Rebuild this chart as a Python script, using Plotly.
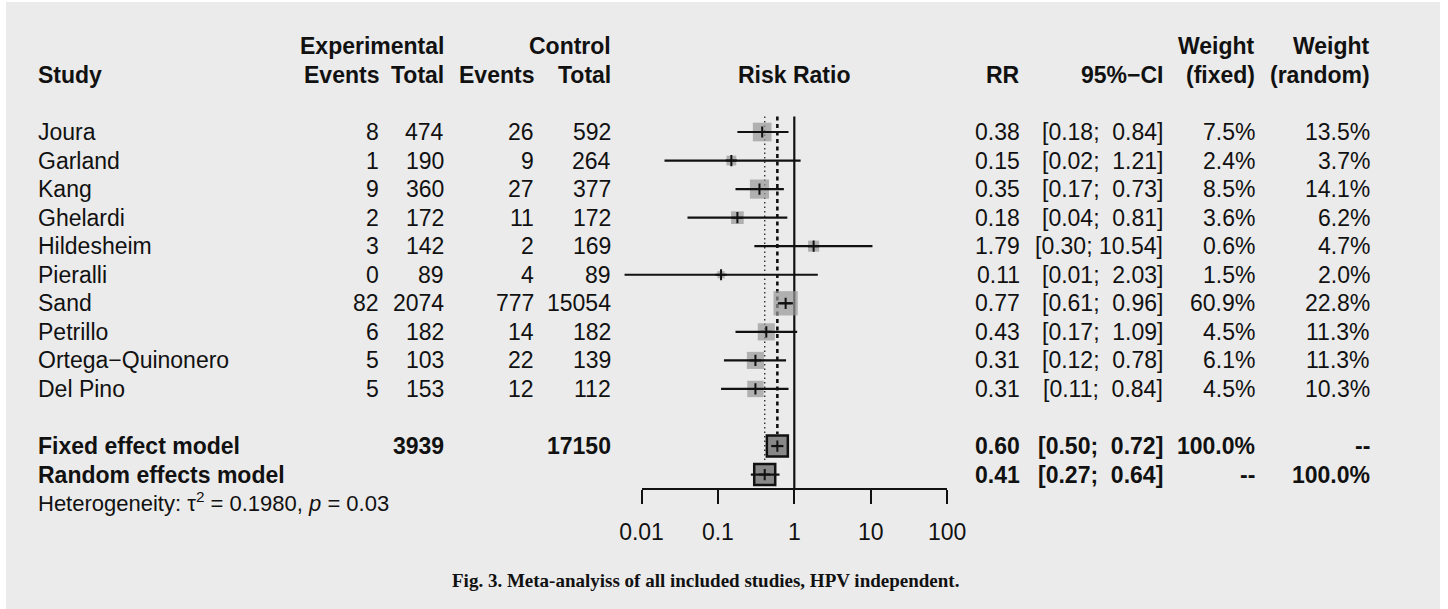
import plotly.graph_objects as go
import numpy as np

# ---------------- data ----------------
studies = ["Joura", "Garland", "Kang", "Ghelardi", "Hildesheim", "Pieralli",
           "Sand", "Petrillo", "Ortega\u2212Quinonero", "Del Pino"]
exp_events = [8, 1, 9, 2, 3, 0, 82, 6, 5, 5]
exp_total = [474, 190, 360, 172, 142, 89, 2074, 182, 103, 153]
ctrl_events = [26, 9, 27, 11, 2, 4, 777, 14, 22, 12]
ctrl_total = [592, 264, 377, 172, 169, 89, 15054, 182, 139, 112]
rr = [0.38, 0.15, 0.35, 0.18, 1.79, 0.11, 0.77, 0.43, 0.31, 0.31]
ci_low = [0.18, 0.02, 0.17, 0.04, 0.30, 0.006, 0.61, 0.17, 0.12, 0.11]
ci_high = [0.84, 1.21, 0.73, 0.81, 10.54, 2.03, 0.96, 1.09, 0.78, 0.84]
w_fixed = [7.5, 2.4, 8.5, 3.6, 0.6, 1.5, 60.9, 4.5, 6.1, 4.5]
w_random = [13.5, 3.7, 14.1, 6.2, 4.7, 2.0, 22.8, 11.3, 11.3, 10.3]

summary_labels = ["Fixed effect model", "Random effects model"]
summary_exp_total = ["3939", ""]
summary_ctrl_total = ["17150", ""]
summary_rr = [0.60, 0.41]
summary_low = [0.50, 0.27]
summary_high = [0.72, 0.64]
summary_w_fixed = ["100.0%", "--"]
summary_w_random = ["--", "100.0%"]

het_tau2 = "0.1980"
het_p = "0.03"

tick_vals = [0.01, 0.1, 1, 10, 100]
tick_labels = ["0.01", "0.1", "1", "10", "100"]

caption = "Fig. 3. Meta-analyiss of all included studies, HPV independent."

# ---------------- layout constants ----------------
W, H = 1448, 609
FONT = "Liberation Sans, Arial, Helvetica, sans-serif"
TXT = "#111111"
X1_PX = 794.3      # pixel of RR = 1
DEC_PX = 76.4      # pixels per decade
ROW0_PX = 132.0    # pixel of first study row
ROW_PX = 28.55     # row spacing
AXIS_PX = 489.0

xr0 = -X1_PX / DEC_PX
xr1 = (W - X1_PX) / DEC_PX
yr_top = -ROW0_PX / ROW_PX
yr_bot = (H - ROW0_PX) / ROW_PX
axis_row = (AXIS_PX - ROW0_PX) / ROW_PX
top_row = (116.5 - ROW0_PX) / ROW_PX

n = len(studies)
rows = list(range(n))
sum_rows = [n + 1, n + 2]
het_row = n + 3 - 0.05
head1, head2 = -3, -2

fig = go.Figure()

# reference lines
fig.add_trace(go.Scatter(x=[1, 1], y=[top_row, axis_row], mode="lines",
                         line=dict(color=TXT, width=2.2), hoverinfo="skip"))
fig.add_trace(go.Scatter(x=[summary_rr[0]] * 2, y=[top_row, sum_rows[0] - 0.42], mode="lines",
                         line=dict(color=TXT, width=2.6, dash="4px,3.5px"), hoverinfo="skip"))
fig.add_trace(go.Scatter(x=[summary_rr[1]] * 2, y=[top_row, sum_rows[1] - 0.42], mode="lines",
                         line=dict(color="#333333", width=1.4, dash="1.5px,3px"), hoverinfo="skip"))

# study squares (area proportional to random-effects weight)
wmax = max(w_random)
sizes = [24.3 * np.sqrt(w / wmax) for w in w_random]
fig.add_trace(go.Scatter(x=rr, y=rows, mode="markers",
                         marker=dict(symbol="square", size=sizes, color="#979797", line=dict(width=0)),
                         hoverinfo="skip"))
# summary squares
fig.add_trace(go.Scatter(x=summary_rr, y=sum_rows, mode="markers",
                         marker=dict(symbol="square", size=21, color="#888888",
                                     line=dict(color=TXT, width=2.5)),
                         hoverinfo="skip"))

# CI segments
cx, cy = [], []
for lo, hi, r in zip(ci_low + summary_low, ci_high + summary_high, rows + sum_rows):
    cx += [lo, hi, None]
    cy += [r, r, None]
fig.add_trace(go.Scatter(x=cx, y=cy, mode="lines", line=dict(color=TXT, width=2.2),
                         hoverinfo="skip"))
# point estimate crosses
fig.add_trace(go.Scatter(x=rr + summary_rr, y=rows + sum_rows, mode="markers",
                         marker=dict(symbol="cross-thin", size=8, color=TXT,
                                     line=dict(color=TXT, width=2)),
                         hoverinfo="skip"))

# invisible trace that carries the visible risk-ratio axis
fig.add_trace(go.Scatter(x=[1], y=[axis_row], xaxis="x2", yaxis="y", mode="markers",
                         marker=dict(opacity=0), hoverinfo="skip"))


def txt(s, xpx, row, anchor="right", bold=False, size=23, family=FONT):
    fig.add_annotation(x=xpx / W, y=row, xref="paper", yref="y",
                       text=f"<b>{s}</b>" if bold else s, showarrow=False,
                       xanchor=anchor, yanchor="middle",
                       font=dict(family=family, size=size, color=TXT))


def fmt_ci(lo, hi):
    pad = "\u00a0" if hi < 10 else ""
    return f"[{lo:.2f};\u00a0{pad}{hi:.2f}]"


# column positions (pixels)
C_STUDY, C_EE, C_ET, C_CE, C_CT = 36, 381, 446, 536, 613
C_RR, C_CI, C_WF, C_WR = 1022, 1165, 1257, 1372
C_MID = X1_PX

# headers
txt("Experimental", C_ET, head1, bold=True)
txt("Control", C_CT, head1, bold=True)
txt("Weight", C_WF, head1, bold=True)
txt("Weight", C_WR, head1, bold=True)
txt("Study", C_STUDY, head2, anchor="left", bold=True)
txt("Events", C_EE, head2, bold=True)
txt("Total", C_ET, head2, bold=True)
txt("Events", C_CE, head2, bold=True)
txt("Total", C_CT, head2, bold=True)
txt("Risk Ratio", C_MID, head2, anchor="center", bold=True)
txt("RR", C_RR, head2, bold=True)
txt("95%\u2212CI", C_CI, head2, bold=True)
txt("(fixed)", C_WF, head2, bold=True)
txt("(random)", C_WR, head2, bold=True)

# study rows
for i in range(n):
    r = rows[i]
    txt(studies[i], C_STUDY, r, anchor="left")
    txt(str(exp_events[i]), C_EE, r)
    txt(str(exp_total[i]), C_ET, r)
    txt(str(ctrl_events[i]), C_CE, r)
    txt(str(ctrl_total[i]), C_CT, r)
    txt(f"{rr[i]:.2f}", C_RR, r)
    txt(fmt_ci(ci_low[i], ci_high[i]), C_CI, r)
    txt(f"{w_fixed[i]:.1f}%", C_WF, r)
    txt(f"{w_random[i]:.1f}%", C_WR, r)

# summary rows
for j in range(2):
    r = sum_rows[j]
    txt(summary_labels[j], C_STUDY, r, anchor="left", bold=True)
    if summary_exp_total[j]:
        txt(summary_exp_total[j], C_ET, r, bold=True)
    if summary_ctrl_total[j]:
        txt(summary_ctrl_total[j], C_CT, r, bold=True)
    txt(f"{summary_rr[j]:.2f}", C_RR, r, bold=True)
    txt(fmt_ci(summary_low[j], summary_high[j]), C_CI, r, bold=True)
    txt(summary_w_fixed[j], C_WF, r, bold=True)
    txt(summary_w_random[j], C_WR, r, bold=True)

txt(f"Heterogeneity: \u03c4<sup>2</sup> = {het_tau2}, <i>p</i> = {het_p}", C_STUDY, het_row,
    anchor="left", size=22)

# caption
cap_row = (580 - ROW0_PX) / ROW_PX
fig.add_annotation(x=705 / W, y=cap_row, xref="paper", yref="y",
                   text=f"<b>{caption}</b>", showarrow=False, xanchor="center", yanchor="middle",
                   font=dict(family="Liberation Serif, Times New Roman, serif", size=19, color="#111111"))

# background panel
fig.add_shape(type="rect", xref="paper", yref="paper", x0=6 / W, x1=1440 / W, y0=0, y1=1 - 2 / H,
              fillcolor="#ebebeb", line=dict(width=0), layer="below")

fig.update_layout(
    width=W, height=H, margin=dict(l=0, r=0, t=0, b=0, pad=0, autoexpand=False),
    paper_bgcolor="white", plot_bgcolor="rgba(0,0,0,0)", showlegend=False,
    xaxis=dict(domain=[0, 1], type="log", range=[xr0, xr1], visible=False, fixedrange=True,
               automargin=False),
    xaxis2=dict(domain=[(X1_PX - 2 * DEC_PX) / W, (X1_PX + 2 * DEC_PX) / W], type="log",
                range=[-2, 2], anchor="free", position=(H - AXIS_PX) / H,
                showline=True, linecolor=TXT, linewidth=2, ticks="outside", ticklen=14,
                tickwidth=2, tickcolor=TXT, tickvals=tick_vals, ticktext=tick_labels,
                tickfont=dict(family=FONT, size=23, color=TXT), ticklabelstandoff=8,
                showgrid=False, zeroline=False, fixedrange=True, automargin=False),
    yaxis=dict(domain=[0, 1], range=[yr_bot, yr_top], visible=False, fixedrange=True,
               automargin=False),
)

fig.write_html(
    "out.html",
    config={"displayModeBar": False},
    post_script="document.body.style.margin='0';document.body.style.overflow='hidden';",
)
